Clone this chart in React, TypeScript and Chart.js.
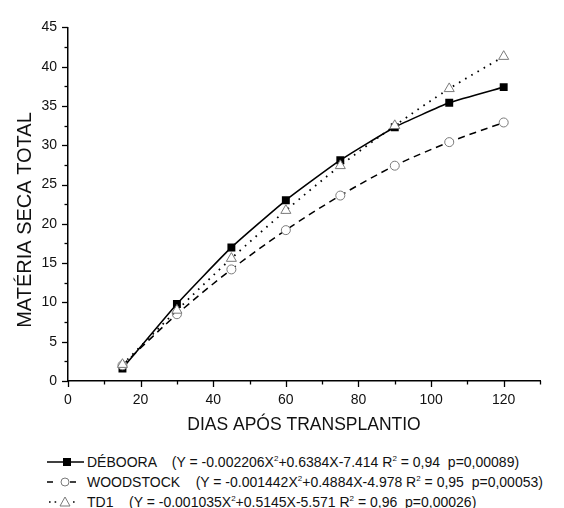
import React, { useEffect, useRef } from 'react';
import { Chart, registerables } from 'chart.js';

Chart.register(...registerables);

const days = [15, 30, 45, 60, 75, 90, 105, 120];
const deboora = [1.6, 9.8, 17.0, 23.0, 28.1, 32.3, 35.4, 37.4];
const woodstock = [2.0, 8.5, 14.2, 19.2, 23.6, 27.4, 30.4, 32.9];
const td1 = [2.1, 9.0, 15.6, 21.7, 27.4, 32.5, 37.2, 41.3];

const seriesNames = ['DÉBOORA', 'WOODSTOCK', 'TD1'];
const eqA = ['-0.002206', '-0.001442', '-0.001035'];
const eqB = ['+0.6384X-7.414', '+0.4884X-4.978', '+0.5145X-5.571'];
const eqR2 = ['0,94', '0,95', '0,96'];
const eqP = ['0,00089', '0,00053', '0,00026'];

const xTitle = 'DIAS APÓS TRANSPLANTIO';
const yTitle = 'MATÉRIA SECA TOTAL';
const FONT = '"Liberation Sans", Arial, sans-serif';
const GRAY = '#7a7a7a';

const tickMarks = {
  id: 'tickMarks',
  afterDraw(chart: any) {
    const ctx = chart.ctx;
    const xs = chart.scales.x;
    const ys = chart.scales.y;
    ctx.save();
    ctx.strokeStyle = '#000';
    ctx.lineWidth = 1.3;
    xs.ticks.forEach((t: any) => {
      const px = Math.round(xs.getPixelForValue(t.value)) + 0.5;
      const len = t.value % 20 === 0 ? 6 : 3.5;
      ctx.beginPath();
      ctx.moveTo(px, xs.top);
      ctx.lineTo(px, xs.top + len);
      ctx.stroke();
    });
    ys.ticks.forEach((t: any) => {
      const py = Math.round(ys.getPixelForValue(t.value)) + 0.5;
      const len = t.value % 5 === 0 ? 6 : 3.5;
      ctx.beginPath();
      ctx.moveTo(ys.right, py);
      ctx.lineTo(ys.right - len, py);
      ctx.stroke();
    });
    // vertical axis title
    ctx.fillStyle = '#111';
    ctx.font = `20px ${FONT}`;
    ctx.textAlign = 'center';
    ctx.textBaseline = 'middle';
    ctx.translate(17, 212);
    ctx.rotate(-Math.PI / 2);
    ctx.fillText(yTitle, 0, 0);
    ctx.restore();
  },
};

function Symbol({ kind }: { kind: number }) {
  if (kind === 0) {
    return (
      <svg width="40" height="20" style={{ display: 'block', flex: 'none' }}>
        <line x1="0" y1="10" x2="37" y2="10" stroke="#000" strokeWidth="1.5" />
        <rect x="16" y="6" width="8" height="8" fill="#000" />
      </svg>
    );
  }
  if (kind === 1) {
    return (
      <svg width="40" height="20" style={{ display: 'block', flex: 'none' }}>
        <line x1="0" y1="10" x2="6" y2="10" stroke="#000" strokeWidth="1.5" />
        <circle cx="18" cy="10" r="4" fill="#fff" stroke={GRAY} strokeWidth="1" />
        <line x1="23" y1="10" x2="29" y2="10" stroke="#000" strokeWidth="1.5" />
      </svg>
    );
  }
  return (
    <svg width="40" height="20" style={{ display: 'block', flex: 'none' }}>
      <line x1="2" y1="10" x2="12" y2="10" stroke="#000" strokeWidth="1.6" strokeDasharray="1.6,4" />
      <polygon points="18,5 23,14 13,14" fill="#fff" stroke={GRAY} strokeWidth="1" />
      <line x1="26" y1="10" x2="30" y2="10" stroke="#000" strokeWidth="1.6" strokeDasharray="1.6,4" />
    </svg>
  );
}

export default function App() {
  const ref = useRef<HTMLCanvasElement>(null);

  useEffect(() => {
    if (!ref.current) return;
    const chart = new Chart(ref.current, {
      type: 'line',
      data: {
        labels: days,
        datasets: [
          {
            label: seriesNames[0],
            data: days.map((d, i) => ({ x: d, y: deboora[i] })),
            borderColor: '#000',
            borderWidth: 1.6,
            pointStyle: 'rect',
            pointRadius: 5.6,
            pointBackgroundColor: '#000',
            pointBorderColor: '#000',
            pointBorderWidth: 0,
            tension: 0.15,
            order: 2,
          },
          {
            label: seriesNames[1],
            data: days.map((d, i) => ({ x: d, y: woodstock[i] })),
            borderColor: '#000',
            borderWidth: 1.5,
            borderDash: [7, 5],
            pointStyle: 'circle',
            pointRadius: 4.5,
            pointBackgroundColor: '#fff',
            pointBorderColor: GRAY,
            pointBorderWidth: 1,
            tension: 0.3,
            order: 1,
          },
          {
            label: seriesNames[2],
            data: days.map((d, i) => ({ x: d, y: td1[i] })),
            borderColor: '#000',
            borderWidth: 1.8,
            borderDash: [1.6, 5.5],
            pointStyle: 'triangle',
            pointRadius: 5.8,
            pointBackgroundColor: '#fff',
            pointBorderColor: GRAY,
            pointBorderWidth: 1,
            tension: 0.3,
            order: 0,
          },
        ],
      },
      options: {
        animation: false,
        responsive: false,
        layout: { padding: { left: 0, right: 16, top: 10, bottom: 0 } },
        plugins: { legend: { display: false }, tooltip: { enabled: false } },
        scales: {
          x: {
            type: 'linear',
            min: 0,
            max: 130,
            grid: { display: false, drawTicks: false },
            border: { display: true, color: '#000', width: 1.5 },
            ticks: {
              stepSize: 10,
              autoSkip: false,
              maxRotation: 0,
              padding: 11,
              color: '#111',
              font: { family: FONT, size: 14 },
              callback: (v: any) => (v % 20 === 0 ? String(v) : ''),
            },
            title: {
              display: true,
              text: xTitle,
              color: '#111',
              font: { family: FONT, size: 17.5 },
              padding: { top: 0, bottom: 12.5 },
            },
            afterFit: (s: any) => {
              s.height = 67;
            },
          },
          y: {
            type: 'linear',
            min: 0,
            max: 45,
            grid: { display: false, drawTicks: false },
            border: { display: true, color: '#000', width: 1.5 },
            ticks: {
              stepSize: 2.5,
              autoSkip: false,
              padding: 11,
              color: '#111',
              font: { family: FONT, size: 14 },
              callback: (v: any) => (v % 5 === 0 ? String(v) : ''),
            },
            afterFit: (s: any) => {
              s.width = 60;
            },
          },
        },
      },
      plugins: [tickMarks],
    } as any);
    return () => chart.destroy();
  }, []);

  return (
    <div style={{ width: 548, fontFamily: FONT }}>
      <canvas ref={ref} width={548} height={440} style={{ display: 'block' }} />
      <div style={{ marginTop: 4, paddingLeft: 39, fontSize: 14, color: '#111' }}>
        {seriesNames.map((name, i) => (
          <div key={name} style={{ height: 20, lineHeight: '20px', whiteSpace: 'pre', display: 'flex', alignItems: 'center' }}>
            <Symbol kind={i} />
            <span>
              {name}
              {'    (Y = '}
              {eqA[i]}X<sup style={{ fontSize: 8, lineHeight: 0 }}>2</sup>
              {eqB[i]}
              {' R'}
              <sup style={{ fontSize: 8, lineHeight: 0 }}>2</sup>
              {' = '}
              {eqR2[i]}
              {'  p='}
              {eqP[i]})
            </span>
          </div>
        ))}
      </div>
    </div>
  );
}
